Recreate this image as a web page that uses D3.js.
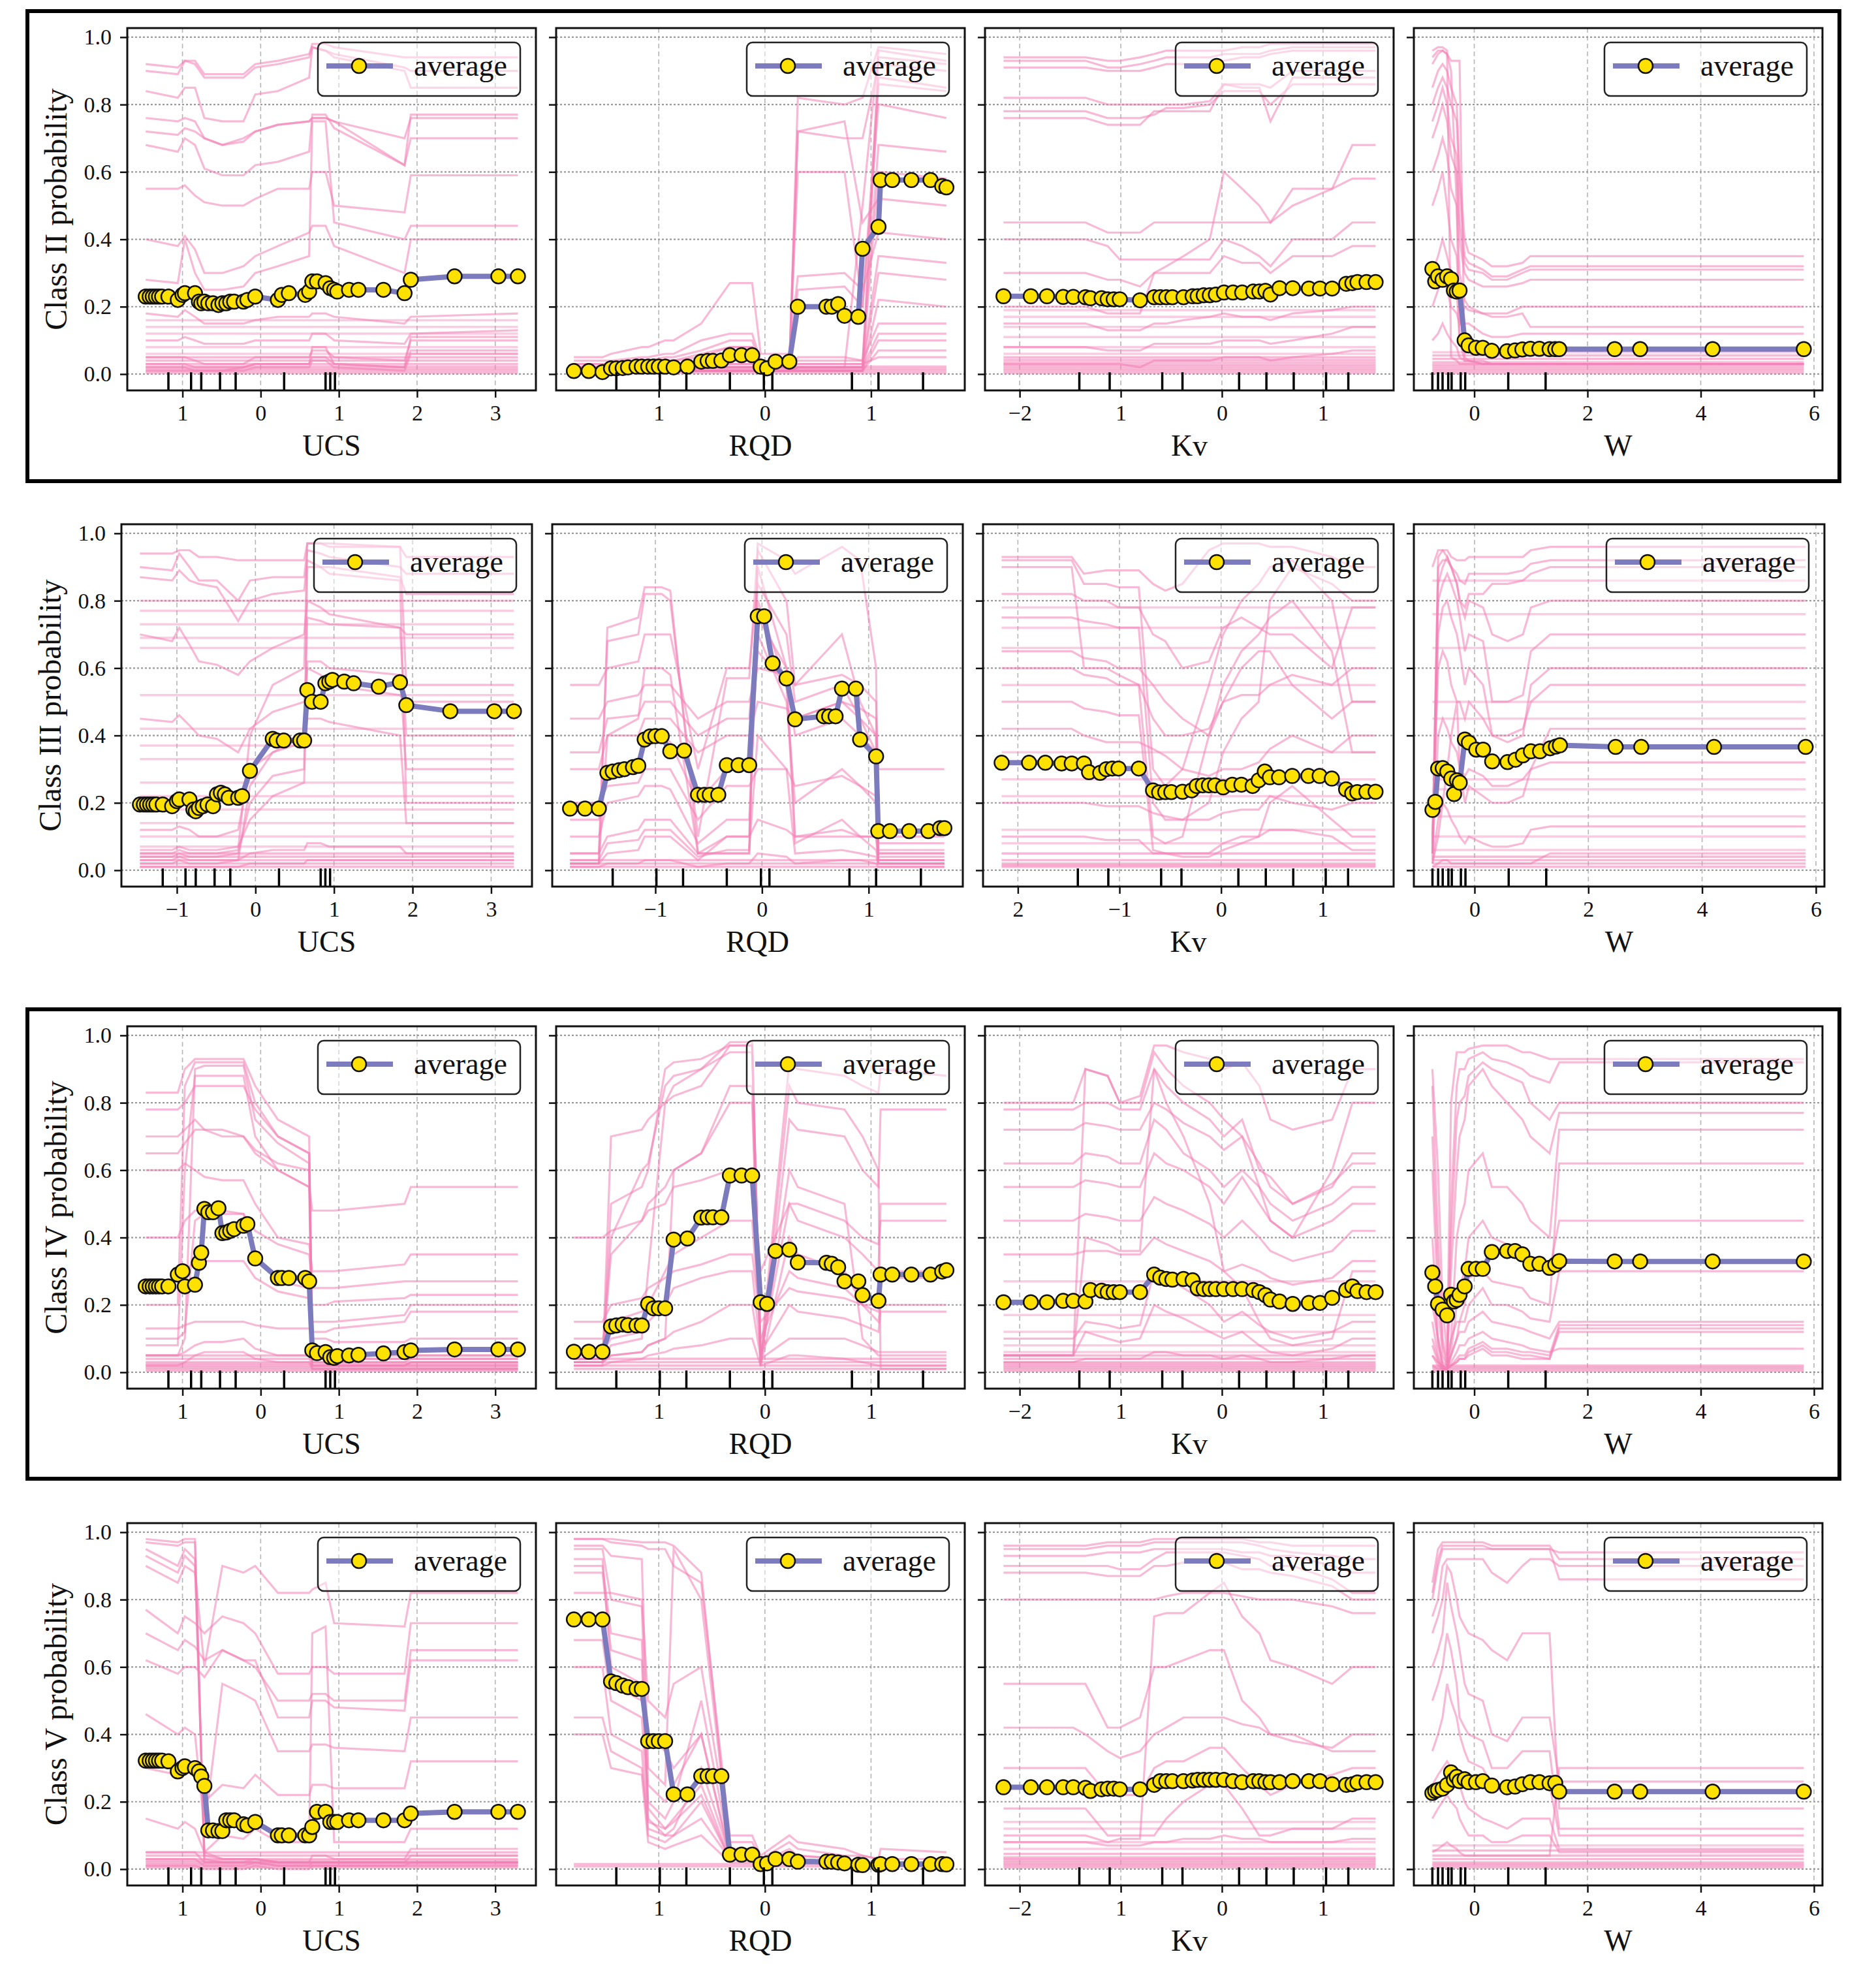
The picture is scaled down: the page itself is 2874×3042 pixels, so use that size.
<!DOCTYPE html>
<html>
<head>
<meta charset="utf-8">
<script src="https://d3js.org/d3.v7.min.js"></script>
<style>
  body { margin: 0; background: #fff; }
  svg { display: block; }
  text { font-family: "Liberation Serif", "DejaVu Serif", serif; fill: #111; }
</style>
</head>
<body>
<svg id="chart"></svg>
<script>
// ---------- data ----------
var features = ["UCS", "RQD", "Kv", "W"];
var classes = ["II", "III", "IV", "V"];

var ucsGrid = [-1.47, -1.42, -1.38, -1.34, -1.30, -1.26, -1.18, -1.06, -1.00, -0.97, -0.84, -0.79, -0.76, -0.72, -0.67, -0.61, -0.54, -0.49, -0.44, -0.39, -0.34, -0.22, -0.17, -0.07, 0.22, 0.27, 0.36, 0.57, 0.62, 0.66, 0.72, 0.83, 0.89, 0.94, 0.98, 1.13, 1.25, 1.57, 1.84, 1.92, 2.48, 3.04, 3.29];
var rqdGrid = [-1.80, -1.66, -1.53, -1.45, -1.40, -1.34, -1.29, -1.21, -1.16, -1.10, -1.05, -1.00, -0.94, -0.86, -0.73, -0.60, -0.54, -0.49, -0.41, -0.33, -0.22, -0.12, -0.04, 0.02, 0.10, 0.23, 0.31, 0.58, 0.63, 0.69, 0.75, 0.88, 0.92, 1.07, 1.09, 1.20, 1.38, 1.56, 1.67, 1.71];
var kvGrid = [-2.16, -1.89, -1.73, -1.57, -1.47, -1.35, -1.30, -1.19, -1.13, -1.07, -1.01, -0.81, -0.67, -0.61, -0.55, -0.49, -0.38, -0.29, -0.24, -0.18, -0.12, -0.06, 0.02, 0.11, 0.20, 0.31, 0.37, 0.43, 0.48, 0.57, 0.70, 0.86, 0.97, 1.09, 1.23, 1.29, 1.34, 1.43, 1.52];
var wGrid = [-0.74, -0.69, -0.64, -0.56, -0.48, -0.41, -0.36, -0.31, -0.26, -0.17, -0.10, 0.03, 0.15, 0.31, 0.58, 0.72, 0.85, 0.99, 1.15, 1.33, 1.43, 1.50, 2.48, 2.93, 4.21, 5.82];

var ucsDeciles = [-1.18, -0.89, -0.76, -0.52, -0.32, 0.30, 0.83, 0.89, 0.95];
var rqdDeciles = [-1.40, -0.99, -0.74, -0.33, -0.01, 0.07, 0.82, 1.07, 1.49];
var kvDeciles = [-1.41, -1.11, -0.59, -0.39, 0.17, 0.44, 0.71, 1.03, 1.25];
var wDeciles = [-0.74, -0.64, -0.56, -0.46, -0.40, -0.24, -0.16, 0.60, 1.26];

var ucsTicks = [-1, 0, 1, 2, 3];
var rqdTicks = [-1, 0, 1];
var kvTicks = [-2, -1, 0, 1];
var wTicks = [0, 2, 4, 6];
var yTicks = [0, 0.2, 0.4, 0.6, 0.8, 1.0];

// tick labels as printed (some minus signs are missing in the picture)
var tickLabelsA = {UCS: ["1", "0", "1", "2", "3"], RQD: ["1", "0", "1"], Kv: ["\u22122", "1", "0", "1"], W: ["0", "2", "4", "6"]};
var tickLabelsB = {UCS: ["\u22121", "0", "1", "2", "3"], RQD: ["\u22121", "0", "1"], Kv: ["2", "\u22121", "0", "1"], W: ["0", "2", "4", "6"]};

// average (partial dependence) values on the grids
var avgII_UCS = [0.23,0.23,0.23,0.23,0.23,0.23,0.23,0.22,0.235,0.24,0.24,0.215,0.21,0.215,0.21,0.21,0.205,0.21,0.21,0.215,0.215,0.215,0.22,0.23,0.22,0.235,0.24,0.235,0.245,0.275,0.275,0.27,0.255,0.25,0.245,0.25,0.25,0.25,0.24,0.28,0.29,0.29,0.29];
var avgIII_UCS = [0.195,0.195,0.195,0.195,0.195,0.195,0.195,0.19,0.205,0.21,0.21,0.18,0.175,0.185,0.19,0.195,0.19,0.225,0.23,0.225,0.215,0.215,0.22,0.295,0.39,0.385,0.385,0.385,0.385,0.535,0.5,0.5,0.555,0.56,0.565,0.56,0.555,0.545,0.558,0.49,0.472,0.472,0.472];
var avgIV_UCS = [0.255,0.255,0.255,0.255,0.255,0.255,0.255,0.29,0.30,0.255,0.26,0.325,0.355,0.485,0.475,0.475,0.487,0.413,0.415,0.42,0.425,0.435,0.44,0.338,0.28,0.28,0.28,0.28,0.27,0.065,0.057,0.06,0.045,0.043,0.048,0.05,0.052,0.056,0.06,0.065,0.068,0.068,0.068];
var avgV_UCS = [0.322,0.322,0.322,0.322,0.322,0.322,0.32,0.29,0.30,0.305,0.30,0.29,0.275,0.247,0.115,0.115,0.113,0.113,0.145,0.145,0.145,0.133,0.13,0.14,0.10,0.10,0.10,0.10,0.10,0.125,0.17,0.17,0.14,0.14,0.14,0.145,0.145,0.145,0.145,0.165,0.17,0.17,0.17];

var avgII_RQD = [0.009,0.009,0.006,0.017,0.017,0.018,0.02,0.022,0.022,0.022,0.022,0.022,0.022,0.02,0.022,0.037,0.039,0.039,0.04,0.056,0.056,0.056,0.022,0.017,0.037,0.037,0.20,0.20,0.20,0.208,0.173,0.17,0.372,0.437,0.576,0.576,0.576,0.576,0.558,0.554];
var avgIII_RQD = [0.183,0.183,0.183,0.289,0.293,0.297,0.30,0.306,0.31,0.388,0.397,0.398,0.398,0.353,0.355,0.224,0.224,0.224,0.224,0.312,0.312,0.312,0.754,0.754,0.614,0.569,0.448,0.457,0.457,0.457,0.539,0.539,0.388,0.338,0.116,0.116,0.116,0.116,0.125,0.125];
var avgIV_RQD = [0.061,0.061,0.061,0.136,0.139,0.142,0.14,0.139,0.139,0.203,0.19,0.19,0.19,0.394,0.397,0.459,0.46,0.46,0.46,0.584,0.584,0.584,0.208,0.203,0.36,0.364,0.326,0.325,0.322,0.312,0.27,0.27,0.229,0.212,0.29,0.29,0.29,0.29,0.299,0.303];
var avgV_RQD = [0.741,0.741,0.741,0.557,0.552,0.545,0.54,0.535,0.535,0.38,0.38,0.38,0.38,0.222,0.222,0.276,0.276,0.276,0.276,0.043,0.043,0.043,0.015,0.017,0.03,0.03,0.022,0.022,0.022,0.02,0.017,0.013,0.012,0.013,0.015,0.015,0.015,0.015,0.015,0.014];

var avgII_Kv = [0.231,0.231,0.231,0.229,0.229,0.228,0.225,0.225,0.222,0.222,0.222,0.219,0.228,0.228,0.228,0.228,0.228,0.231,0.231,0.234,0.234,0.236,0.242,0.242,0.242,0.245,0.245,0.247,0.236,0.255,0.255,0.254,0.254,0.254,0.268,0.27,0.273,0.273,0.273];
var avgIII_Kv = [0.319,0.319,0.319,0.317,0.317,0.317,0.291,0.289,0.30,0.302,0.302,0.302,0.237,0.231,0.232,0.232,0.233,0.237,0.25,0.252,0.252,0.252,0.246,0.254,0.254,0.25,0.267,0.293,0.276,0.276,0.28,0.28,0.28,0.272,0.24,0.228,0.232,0.233,0.233];
var avgIV_Kv = [0.208,0.208,0.208,0.212,0.212,0.21,0.244,0.242,0.238,0.238,0.238,0.238,0.29,0.281,0.277,0.275,0.277,0.273,0.249,0.247,0.247,0.247,0.247,0.247,0.247,0.244,0.238,0.229,0.216,0.21,0.203,0.206,0.206,0.221,0.244,0.255,0.241,0.238,0.238];
var avgV_Kv = [0.243,0.243,0.243,0.243,0.243,0.241,0.232,0.237,0.239,0.239,0.237,0.237,0.25,0.261,0.261,0.261,0.261,0.263,0.265,0.265,0.265,0.265,0.265,0.261,0.258,0.261,0.261,0.258,0.258,0.258,0.261,0.261,0.261,0.252,0.25,0.252,0.257,0.258,0.258];

var avgII_W = [0.312,0.275,0.29,0.28,0.29,0.282,0.248,0.245,0.248,0.10,0.085,0.078,0.078,0.069,0.068,0.07,0.073,0.075,0.075,0.074,0.074,0.074,0.074,0.074,0.074,0.074];
var avgIII_W = [0.179,0.203,0.302,0.303,0.293,0.272,0.226,0.267,0.26,0.388,0.379,0.358,0.358,0.323,0.321,0.328,0.341,0.353,0.353,0.362,0.367,0.371,0.366,0.366,0.366,0.366];
var avgIV_W = [0.296,0.255,0.203,0.186,0.169,0.23,0.21,0.215,0.23,0.255,0.307,0.307,0.307,0.357,0.36,0.36,0.35,0.322,0.322,0.31,0.319,0.33,0.329,0.329,0.329,0.329];
var avgV_W = [0.226,0.232,0.235,0.239,0.25,0.287,0.265,0.274,0.261,0.267,0.258,0.258,0.261,0.248,0.243,0.245,0.252,0.258,0.258,0.255,0.256,0.23,0.23,0.23,0.23,0.23];

// individual (ICE) curves, sampled at coarser x positions
var ucsIceX = [-1.47, -1.06, -0.97, -0.84, -0.72, -0.49, -0.22, -0.07, 0.22, 0.62, 0.66, 0.83, 0.94, 1.84, 1.92, 3.29];
var rqdIceX = [-1.80, -1.53, -1.45, -1.16, -1.10, -0.94, -0.86, -0.60, -0.33, -0.12, -0.04, 0.23, 0.31, 0.75, 0.92, 1.07, 1.09, 1.71];
var kvIceX = [-2.16, -1.47, -1.35, -1.13, -1.01, -0.81, -0.67, -0.55, -0.38, -0.12, 0.02, 0.20, 0.37, 0.48, 0.70, 1.09, 1.29, 1.52];
var wIceX = [-0.74, -0.64, -0.56, -0.48, -0.41, -0.31, -0.26, -0.17, -0.10, 0.15, 0.31, 0.58, 0.85, 0.99, 1.33, 1.50, 5.82];

var iceII_UCS = [
  [0.92,0.91,0.93,0.93,0.89,0.89,0.89,0.92,0.93,0.95,0.98,0.98,0.97,0.94,0.94,0.94],
  [0.90,0.89,0.93,0.92,0.88,0.88,0.88,0.91,0.92,0.94,0.97,0.96,0.95,0.91,0.90,0.90],
  [0.84,0.82,0.85,0.85,0.76,0.75,0.75,0.83,0.84,0.88,0.97,0.96,0.94,0.90,0.85,0.85],
  [0.76,0.75,0.76,0.75,0.70,0.68,0.70,0.72,0.74,0.75,0.76,0.76,0.75,0.62,0.77,0.77],
  [0.68,0.66,0.70,0.68,0.61,0.59,0.59,0.62,0.63,0.66,0.77,0.77,0.73,0.62,0.70,0.70],
  [0.55,0.55,0.56,0.53,0.51,0.50,0.50,0.52,0.55,0.55,0.60,0.60,0.50,0.48,0.59,0.59],
  [0.40,0.38,0.41,0.37,0.30,0.30,0.32,0.35,0.38,0.42,0.44,0.44,0.38,0.30,0.40,0.40],
  [0.18,0.17,0.19,0.17,0.15,0.15,0.15,0.16,0.17,0.17,0.18,0.18,0.17,0.15,0.17,0.18],
  [0.10,0.10,0.11,0.10,0.09,0.09,0.09,0.10,0.10,0.10,0.12,0.12,0.10,0.09,0.12,0.13],
  [0.05,0.05,0.05,0.04,0.03,0.03,0.03,0.05,0.05,0.05,0.07,0.07,0.05,0.04,0.10,0.10],
  [0.03,0.03,0.03,0.02,0.02,0.02,0.02,0.03,0.03,0.03,0.05,0.05,0.03,0.02,0.07,0.07],
  [0.72,0.71,0.73,0.72,0.70,0.68,0.69,0.72,0.74,0.75,0.76,0.76,0.75,0.70,0.76,0.76],
  [0.28,0.27,0.40,0.30,0.25,0.25,0.26,0.30,0.32,0.35,0.75,0.75,0.45,0.40,0.44,0.44],
  [0.02,0.02,0.02,0.01,0.01,0.01,0.02,0.03,0.03,0.03,0.08,0.08,0.03,0.02,0.11,0.11],
  [0.01,0.01,0.01,0.01,0.01,0.01,0.01,0.02,0.02,0.02,0.04,0.04,0.02,0.01,0.06,0.06]
];
var iceIII_UCS = [
  [0.94,0.94,0.95,0.95,0.93,0.93,0.92,0.92,0.92,0.92,0.97,0.97,0.97,0.96,0.93,0.93],
  [0.90,0.89,0.94,0.90,0.86,0.86,0.80,0.86,0.87,0.87,0.95,0.94,0.93,0.90,0.88,0.88],
  [0.87,0.86,0.89,0.86,0.85,0.84,0.74,0.80,0.82,0.83,0.92,0.90,0.90,0.87,0.82,0.82],
  [0.05,0.05,0.06,0.05,0.05,0.05,0.06,0.40,0.55,0.60,0.97,0.97,0.96,0.96,0.55,0.55],
  [0.02,0.02,0.03,0.02,0.02,0.02,0.03,0.25,0.35,0.40,0.75,0.74,0.73,0.72,0.40,0.40],
  [0.70,0.68,0.72,0.67,0.62,0.61,0.58,0.62,0.66,0.70,0.80,0.78,0.76,0.72,0.70,0.70],
  [0.45,0.44,0.46,0.43,0.40,0.39,0.35,0.42,0.47,0.50,0.60,0.58,0.55,0.52,0.50,0.50],
  [0.12,0.12,0.13,0.12,0.10,0.10,0.12,0.30,0.35,0.38,0.45,0.45,0.44,0.40,0.14,0.14],
  [0.03,0.03,0.04,0.03,0.03,0.03,0.03,0.05,0.06,0.06,0.08,0.08,0.07,0.07,0.05,0.05],
  [0.01,0.01,0.01,0.01,0.01,0.01,0.01,0.02,0.02,0.02,0.03,0.03,0.03,0.03,0.03,0.03],
  [0.04,0.04,0.05,0.04,0.04,0.04,0.05,0.20,0.28,0.30,0.90,0.90,0.88,0.86,0.20,0.20],
  [0.06,0.06,0.07,0.06,0.06,0.06,0.07,0.15,0.22,0.26,0.62,0.62,0.60,0.58,0.30,0.30]
];
var iceIV_UCS = [
  [0.83,0.83,0.90,0.93,0.93,0.93,0.93,0.85,0.75,0.70,0.05,0.05,0.04,0.04,0.05,0.05],
  [0.20,0.20,0.85,0.92,0.92,0.92,0.92,0.80,0.70,0.65,0.03,0.03,0.02,0.02,0.03,0.03],
  [0.05,0.05,0.10,0.90,0.91,0.91,0.91,0.75,0.68,0.62,0.02,0.02,0.02,0.02,0.03,0.03],
  [0.70,0.70,0.72,0.75,0.72,0.70,0.70,0.65,0.60,0.55,0.48,0.48,0.48,0.50,0.55,0.55],
  [0.60,0.60,0.62,0.60,0.58,0.57,0.57,0.50,0.40,0.38,0.30,0.30,0.30,0.32,0.35,0.35],
  [0.10,0.10,0.12,0.45,0.47,0.47,0.47,0.35,0.27,0.25,0.02,0.02,0.02,0.02,0.02,0.02],
  [0.05,0.05,0.06,0.08,0.09,0.09,0.10,0.07,0.05,0.05,0.01,0.01,0.01,0.01,0.01,0.01],
  [0.02,0.02,0.03,0.05,0.06,0.06,0.06,0.04,0.03,0.03,0.01,0.01,0.01,0.01,0.01,0.01],
  [0.13,0.13,0.14,0.15,0.15,0.15,0.15,0.14,0.13,0.13,0.12,0.12,0.13,0.15,0.18,0.18],
  [0.40,0.40,0.45,0.48,0.48,0.48,0.47,0.42,0.38,0.35,0.25,0.25,0.25,0.27,0.27,0.27],
  [0.78,0.78,0.80,0.85,0.85,0.85,0.85,0.78,0.70,0.65,0.10,0.10,0.09,0.09,0.10,0.10],
  [0.65,0.65,0.68,0.72,0.72,0.72,0.70,0.66,0.62,0.60,0.15,0.15,0.15,0.17,0.20,0.20],
  [0.08,0.08,0.60,0.88,0.88,0.88,0.88,0.70,0.60,0.55,0.04,0.04,0.03,0.03,0.04,0.04],
  [0.25,0.25,0.30,0.33,0.33,0.33,0.33,0.28,0.24,0.22,0.20,0.20,0.21,0.22,0.23,0.23]
];
var iceV_UCS = [
  [0.97,0.96,0.97,0.97,0.02,0.02,0.02,0.02,0.01,0.01,0.01,0.01,0.01,0.01,0.01,0.01],
  [0.95,0.90,0.95,0.92,0.05,0.03,0.03,0.03,0.02,0.02,0.02,0.02,0.02,0.02,0.02,0.02],
  [0.90,0.85,0.90,0.88,0.60,0.90,0.88,0.90,0.82,0.82,0.83,0.85,0.73,0.72,0.82,0.82],
  [0.77,0.70,0.75,0.73,0.70,0.75,0.73,0.70,0.58,0.58,0.60,0.60,0.58,0.58,0.73,0.73],
  [0.70,0.65,0.68,0.66,0.62,0.65,0.62,0.60,0.50,0.50,0.52,0.52,0.50,0.50,0.65,0.65],
  [0.46,0.40,0.42,0.40,0.12,0.55,0.52,0.50,0.35,0.35,0.37,0.37,0.36,0.35,0.45,0.45],
  [0.15,0.12,0.14,0.12,0.05,0.10,0.09,0.12,0.08,0.08,0.70,0.72,0.08,0.08,0.12,0.12],
  [0.05,0.05,0.05,0.05,0.02,0.02,0.02,0.03,0.02,0.02,0.04,0.04,0.03,0.03,0.06,0.06],
  [0.03,0.03,0.03,0.03,0.01,0.01,0.01,0.02,0.01,0.01,0.02,0.02,0.02,0.02,0.04,0.04],
  [0.01,0.01,0.01,0.01,0.00,0.00,0.00,0.01,0.00,0.00,0.01,0.01,0.01,0.01,0.02,0.02],
  [0.30,0.28,0.30,0.28,0.20,0.25,0.24,0.28,0.22,0.22,0.25,0.25,0.24,0.24,0.32,0.32],
  [0.62,0.58,0.60,0.60,0.57,0.65,0.62,0.62,0.45,0.45,0.50,0.50,0.48,0.47,0.62,0.62],
  [0.98,0.97,0.98,0.98,0.03,0.02,0.02,0.02,0.02,0.02,0.02,0.02,0.02,0.02,0.02,0.02],
  [0.93,0.88,0.93,0.90,0.04,0.03,0.03,0.03,0.02,0.02,0.02,0.02,0.02,0.02,0.02,0.02]
];

var iceII_RQD = [
  [0.01,0.01,0.01,0.01,0.01,0.01,0.01,0.02,0.02,0.02,0.01,0.01,0.82,0.80,0.82,0.97,0.97,0.95],
  [0.01,0.01,0.01,0.01,0.01,0.01,0.01,0.01,0.01,0.01,0.01,0.01,0.02,0.02,0.50,0.96,0.96,0.93],
  [0.02,0.02,0.02,0.02,0.02,0.02,0.02,0.03,0.03,0.03,0.02,0.02,0.72,0.70,0.70,0.92,0.92,0.90],
  [0.04,0.04,0.04,0.05,0.05,0.06,0.06,0.10,0.12,0.12,0.04,0.04,0.25,0.26,0.20,0.80,0.80,0.76],
  [0.02,0.02,0.02,0.03,0.03,0.04,0.04,0.06,0.08,0.08,0.03,0.03,0.04,0.04,0.04,0.68,0.68,0.66],
  [0.05,0.05,0.06,0.08,0.08,0.10,0.10,0.15,0.27,0.27,0.06,0.06,0.29,0.30,0.25,0.42,0.42,0.40],
  [0.03,0.03,0.03,0.04,0.04,0.05,0.05,0.07,0.10,0.10,0.03,0.03,0.72,0.75,0.45,0.52,0.52,0.50],
  [0.01,0.01,0.01,0.01,0.01,0.01,0.01,0.02,0.02,0.02,0.01,0.01,0.02,0.02,0.02,0.30,0.30,0.28],
  [0.01,0.01,0.01,0.01,0.01,0.01,0.01,0.01,0.01,0.01,0.01,0.01,0.05,0.05,0.04,0.15,0.15,0.15],
  [0.02,0.02,0.02,0.02,0.02,0.03,0.03,0.04,0.06,0.06,0.02,0.02,0.03,0.03,0.03,0.05,0.05,0.05],
  [0.03,0.03,0.03,0.03,0.03,0.04,0.04,0.05,0.08,0.08,0.03,0.03,0.60,0.60,0.20,0.86,0.86,0.84],
  [0.01,0.01,0.01,0.01,0.01,0.01,0.01,0.02,0.02,0.02,0.01,0.01,0.02,0.02,0.02,0.60,0.60,0.58],
  [0.01,0.01,0.01,0.01,0.01,0.01,0.01,0.01,0.01,0.01,0.01,0.01,0.01,0.01,0.01,0.22,0.22,0.20],
  [0.01,0.01,0.01,0.01,0.01,0.01,0.01,0.01,0.01,0.01,0.01,0.01,0.01,0.01,0.01,0.10,0.10,0.10],
  [0.01,0.01,0.01,0.01,0.01,0.01,0.01,0.01,0.01,0.01,0.01,0.01,0.01,0.01,0.01,0.88,0.88,0.85],
  [0.01,0.01,0.01,0.01,0.01,0.01,0.01,0.01,0.01,0.01,0.01,0.01,0.02,0.02,0.02,0.94,0.94,0.92],
  [0.02,0.02,0.02,0.02,0.02,0.02,0.02,0.03,0.04,0.04,0.02,0.02,0.03,0.03,0.03,0.35,0.35,0.33],
  [0.01,0.01,0.01,0.01,0.01,0.01,0.01,0.01,0.01,0.01,0.01,0.01,0.01,0.01,0.01,0.07,0.07,0.07],
  [0.02,0.02,0.02,0.02,0.02,0.02,0.02,0.02,0.03,0.03,0.02,0.02,0.02,0.02,0.02,0.12,0.12,0.12]
];
var iceIII_RQD = [
  [0.02,0.02,0.72,0.75,0.84,0.84,0.83,0.05,0.05,0.05,0.97,0.92,0.88,0.96,0.92,0.60,0.02,0.02],
  [0.05,0.05,0.68,0.70,0.82,0.82,0.80,0.10,0.57,0.57,0.95,0.80,0.55,0.70,0.50,0.40,0.03,0.03],
  [0.55,0.55,0.60,0.62,0.70,0.70,0.70,0.30,0.60,0.60,0.85,0.70,0.50,0.55,0.45,0.35,0.05,0.05],
  [0.02,0.02,0.40,0.45,0.60,0.60,0.58,0.05,0.05,0.05,0.90,0.60,0.10,0.10,0.10,0.10,0.02,0.02],
  [0.15,0.15,0.30,0.32,0.40,0.40,0.38,0.20,0.30,0.30,0.65,0.55,0.45,0.50,0.45,0.40,0.10,0.10],
  [0.02,0.02,0.05,0.06,0.10,0.10,0.10,0.03,0.10,0.10,0.80,0.55,0.08,0.15,0.10,0.06,0.03,0.03],
  [0.30,0.30,0.40,0.40,0.45,0.45,0.45,0.35,0.40,0.40,0.50,0.48,0.45,0.50,0.48,0.45,0.30,0.30],
  [0.01,0.01,0.02,0.02,0.03,0.03,0.03,0.01,0.02,0.02,0.05,0.04,0.02,0.03,0.03,0.02,0.01,0.01],
  [0.05,0.05,0.10,0.12,0.15,0.15,0.15,0.05,0.10,0.10,0.15,0.12,0.10,0.12,0.10,0.10,0.05,0.05],
  [0.20,0.20,0.25,0.26,0.30,0.30,0.30,0.15,0.25,0.25,0.30,0.30,0.25,0.28,0.25,0.22,0.08,0.08],
  [0.45,0.45,0.50,0.52,0.55,0.55,0.55,0.45,0.50,0.50,0.60,0.58,0.55,0.58,0.55,0.50,0.12,0.12],
  [0.10,0.10,0.20,0.22,0.25,0.25,0.24,0.08,0.15,0.15,0.70,0.50,0.20,0.30,0.25,0.20,0.04,0.04],
  [0.35,0.35,0.45,0.46,0.50,0.50,0.50,0.40,0.45,0.45,0.75,0.60,0.40,0.45,0.40,0.35,0.06,0.06],
  [0.03,0.03,0.08,0.09,0.12,0.12,0.12,0.04,0.06,0.06,0.40,0.30,0.05,0.06,0.05,0.04,0.02,0.02]
];
var iceIV_RQD = [
  [0.05,0.05,0.40,0.60,0.62,0.85,0.88,0.90,0.98,0.98,0.05,0.92,0.90,0.88,0.85,0.83,0.90,0.88],
  [0.04,0.04,0.08,0.10,0.30,0.80,0.85,0.90,0.95,0.95,0.03,0.60,0.55,0.50,0.10,0.05,0.05,0.05],
  [0.04,0.04,0.35,0.45,0.50,0.55,0.60,0.65,0.80,0.80,0.05,0.50,0.45,0.40,0.35,0.30,0.50,0.50],
  [0.03,0.03,0.05,0.06,0.08,0.10,0.60,0.65,0.85,0.85,0.02,0.40,0.35,0.30,0.20,0.15,0.20,0.20],
  [0.40,0.40,0.42,0.45,0.48,0.50,0.55,0.57,0.60,0.60,0.30,0.50,0.50,0.45,0.40,0.38,0.45,0.45],
  [0.10,0.10,0.15,0.18,0.20,0.30,0.35,0.40,0.45,0.45,0.10,0.30,0.28,0.25,0.20,0.18,0.30,0.30],
  [0.02,0.02,0.03,0.04,0.05,0.06,0.07,0.08,0.10,0.10,0.02,0.05,0.05,0.04,0.03,0.02,0.02,0.02],
  [0.15,0.15,0.20,0.22,0.25,0.28,0.30,0.32,0.35,0.35,0.15,0.25,0.24,0.22,0.20,0.20,0.28,0.28],
  [0.02,0.02,0.70,0.72,0.75,0.80,0.82,0.85,0.97,0.97,0.03,0.85,0.80,0.78,0.70,0.60,0.01,0.01],
  [0.03,0.03,0.05,0.06,0.08,0.10,0.12,0.15,0.20,0.20,0.04,0.10,0.10,0.10,0.08,0.06,0.06,0.06],
  [0.03,0.03,0.50,0.55,0.60,0.90,0.92,0.93,0.97,0.97,0.02,0.75,0.72,0.70,0.60,0.55,0.78,0.78],
  [0.06,0.06,0.10,0.12,0.15,0.20,0.25,0.28,0.30,0.30,0.06,0.20,0.18,0.16,0.14,0.12,0.18,0.18]
];
var iceV_RQD = [
  [0.98,0.98,0.98,0.97,0.97,0.97,0.96,0.88,0.05,0.05,0.02,0.03,0.02,0.02,0.02,0.01,0.01,0.01],
  [0.96,0.96,0.93,0.92,0.30,0.25,0.95,0.80,0.06,0.06,0.03,0.04,0.03,0.02,0.02,0.01,0.01,0.01],
  [0.92,0.92,0.60,0.55,0.20,0.15,0.20,0.50,0.05,0.05,0.02,0.06,0.04,0.03,0.02,0.02,0.02,0.02],
  [0.90,0.90,0.70,0.68,0.15,0.10,0.12,0.30,0.04,0.04,0.02,0.05,0.03,0.02,0.02,0.02,0.02,0.02],
  [0.75,0.75,0.55,0.50,0.40,0.35,0.30,0.40,0.03,0.03,0.02,0.04,0.03,0.02,0.02,0.02,0.02,0.02],
  [0.60,0.60,0.40,0.35,0.10,0.08,0.10,0.20,0.03,0.03,0.01,0.05,0.03,0.02,0.02,0.02,0.02,0.02],
  [0.45,0.45,0.35,0.30,0.12,0.10,0.10,0.15,0.03,0.03,0.01,0.04,0.03,0.02,0.02,0.02,0.02,0.02],
  [0.82,0.82,0.82,0.80,0.50,0.45,0.55,0.60,0.08,0.08,0.03,0.08,0.06,0.04,0.04,0.03,0.06,0.05],
  [0.98,0.98,0.97,0.96,0.95,0.95,0.90,0.85,0.10,0.10,0.04,0.10,0.08,0.06,0.04,0.03,0.03,0.03],
  [0.40,0.40,0.30,0.28,0.08,0.06,0.07,0.10,0.02,0.02,0.01,0.03,0.02,0.01,0.01,0.01,0.01,0.01],
  [0.95,0.95,0.80,0.78,0.25,0.20,0.25,0.40,0.04,0.04,0.02,0.05,0.04,0.03,0.02,0.02,0.02,0.02],
  [0.88,0.88,0.65,0.62,0.18,0.12,0.15,0.25,0.03,0.03,0.02,0.04,0.03,0.02,0.02,0.02,0.02,0.02],
  [0.68,0.68,0.50,0.45,0.14,0.12,0.14,0.22,0.03,0.03,0.01,0.04,0.03,0.02,0.02,0.02,0.02,0.02]
];

var iceII_Kv = [
  [0.94,0.94,0.94,0.93,0.93,0.94,0.95,0.96,0.96,0.96,0.96,0.97,0.97,0.98,0.98,0.98,0.98,0.98],
  [0.91,0.91,0.91,0.90,0.90,0.90,0.91,0.92,0.92,0.92,0.93,0.94,0.94,0.95,0.96,0.96,0.96,0.96],
  [0.82,0.82,0.82,0.80,0.80,0.80,0.80,0.80,0.80,0.81,0.86,0.86,0.86,0.85,0.90,0.90,0.90,0.90],
  [0.76,0.76,0.76,0.74,0.74,0.74,0.78,0.78,0.78,0.78,0.86,0.85,0.85,0.75,0.88,0.88,0.88,0.88],
  [0.45,0.45,0.45,0.42,0.42,0.42,0.45,0.45,0.45,0.45,0.45,0.45,0.45,0.45,0.50,0.55,0.68,0.68],
  [0.20,0.20,0.20,0.18,0.18,0.18,0.30,0.32,0.35,0.40,0.60,0.55,0.50,0.45,0.55,0.55,0.58,0.58],
  [0.40,0.40,0.40,0.38,0.34,0.34,0.34,0.34,0.34,0.34,0.40,0.38,0.35,0.32,0.40,0.40,0.45,0.45],
  [0.30,0.30,0.30,0.28,0.28,0.26,0.30,0.30,0.30,0.30,0.35,0.33,0.33,0.30,0.35,0.35,0.38,0.38],
  [0.15,0.15,0.15,0.13,0.13,0.13,0.15,0.15,0.16,0.17,0.18,0.17,0.17,0.16,0.18,0.19,0.20,0.20],
  [0.08,0.08,0.08,0.07,0.07,0.07,0.09,0.09,0.09,0.09,0.10,0.10,0.10,0.09,0.10,0.12,0.14,0.14],
  [0.03,0.03,0.03,0.03,0.03,0.02,0.04,0.04,0.04,0.04,0.05,0.05,0.05,0.04,0.05,0.06,0.07,0.07],
  [0.93,0.93,0.93,0.91,0.91,0.92,0.93,0.94,0.94,0.94,0.95,0.95,0.95,0.96,0.97,0.97,0.97,0.97],
  [0.78,0.78,0.78,0.76,0.76,0.76,0.77,0.79,0.79,0.80,0.84,0.84,0.84,0.80,0.86,0.86,0.86,0.86]
];
var iceIII_Kv = [
  [0.93,0.93,0.88,0.89,0.89,0.89,0.85,0.83,0.85,0.95,0.97,0.97,0.97,0.96,0.96,0.93,0.90,0.90],
  [0.90,0.90,0.60,0.60,0.58,0.55,0.10,0.08,0.10,0.40,0.55,0.65,0.70,0.75,0.80,0.65,0.35,0.35],
  [0.82,0.82,0.80,0.80,0.78,0.78,0.70,0.68,0.60,0.62,0.72,0.75,0.72,0.70,0.70,0.60,0.78,0.78],
  [0.75,0.75,0.74,0.73,0.72,0.72,0.20,0.15,0.15,0.20,0.35,0.45,0.50,0.80,0.90,0.85,0.80,0.80],
  [0.60,0.60,0.58,0.57,0.55,0.55,0.45,0.40,0.40,0.42,0.50,0.52,0.52,0.55,0.58,0.55,0.60,0.60],
  [0.50,0.50,0.48,0.47,0.46,0.46,0.06,0.05,0.05,0.05,0.08,0.10,0.10,0.20,0.25,0.15,0.10,0.10],
  [0.42,0.42,0.40,0.38,0.38,0.38,0.36,0.34,0.30,0.28,0.30,0.30,0.32,0.36,0.40,0.35,0.40,0.40],
  [0.20,0.20,0.20,0.19,0.19,0.19,0.17,0.16,0.15,0.15,0.17,0.18,0.18,0.22,0.20,0.18,0.20,0.20],
  [0.10,0.10,0.10,0.09,0.09,0.09,0.05,0.05,0.04,0.04,0.06,0.08,0.10,0.12,0.12,0.10,0.06,0.06],
  [0.65,0.65,0.63,0.62,0.60,0.60,0.55,0.50,0.45,0.40,0.50,0.60,0.65,0.65,0.55,0.45,0.50,0.50],
  [0.92,0.92,0.85,0.85,0.84,0.84,0.30,0.25,0.30,0.55,0.70,0.80,0.85,0.90,0.92,0.80,0.50,0.50]
];
var iceIV_Kv = [
  [0.80,0.80,0.90,0.88,0.80,0.82,0.97,0.97,0.95,0.93,0.90,0.92,0.85,0.75,0.72,0.75,0.90,0.90],
  [0.05,0.05,0.90,0.88,0.80,0.80,0.95,0.90,0.85,0.80,0.75,0.70,0.55,0.45,0.40,0.60,0.80,0.80],
  [0.78,0.78,0.80,0.80,0.78,0.78,0.90,0.85,0.80,0.75,0.70,0.75,0.60,0.58,0.50,0.55,0.65,0.65],
  [0.62,0.62,0.65,0.64,0.62,0.62,0.75,0.72,0.65,0.60,0.55,0.60,0.55,0.50,0.45,0.50,0.55,0.55],
  [0.05,0.05,0.40,0.38,0.36,0.36,0.90,0.80,0.70,0.50,0.30,0.25,0.15,0.10,0.08,0.10,0.30,0.30],
  [0.05,0.05,0.12,0.10,0.09,0.10,0.20,0.18,0.16,0.12,0.10,0.12,0.08,0.06,0.05,0.07,0.10,0.10],
  [0.55,0.55,0.57,0.56,0.55,0.55,0.65,0.62,0.60,0.55,0.50,0.58,0.50,0.45,0.40,0.45,0.50,0.50],
  [0.10,0.10,0.15,0.14,0.13,0.14,0.30,0.28,0.25,0.20,0.15,0.18,0.14,0.12,0.10,0.12,0.15,0.15],
  [0.03,0.03,0.04,0.04,0.04,0.04,0.06,0.06,0.05,0.05,0.04,0.05,0.04,0.03,0.03,0.04,0.05,0.05],
  [0.35,0.35,0.36,0.36,0.35,0.35,0.40,0.38,0.36,0.33,0.30,0.32,0.30,0.28,0.26,0.28,0.33,0.33],
  [0.72,0.72,0.74,0.73,0.72,0.72,0.80,0.78,0.74,0.70,0.66,0.70,0.62,0.55,0.50,0.56,0.62,0.62],
  [0.45,0.45,0.47,0.46,0.45,0.45,0.52,0.50,0.48,0.44,0.40,0.45,0.40,0.36,0.33,0.36,0.42,0.42]
];
var iceV_Kv = [
  [0.96,0.96,0.96,0.97,0.97,0.97,0.98,0.98,0.98,0.98,0.98,0.98,0.97,0.97,0.96,0.96,0.96,0.96],
  [0.93,0.93,0.93,0.94,0.94,0.94,0.95,0.95,0.95,0.95,0.95,0.94,0.94,0.93,0.93,0.90,0.88,0.88],
  [0.90,0.90,0.90,0.90,0.89,0.89,0.92,0.94,0.94,0.94,0.94,0.93,0.92,0.90,0.90,0.86,0.82,0.82],
  [0.88,0.88,0.88,0.87,0.87,0.87,0.90,0.90,0.91,0.91,0.91,0.89,0.89,0.88,0.87,0.84,0.80,0.80],
  [0.80,0.80,0.80,0.80,0.80,0.80,0.80,0.81,0.82,0.82,0.82,0.81,0.80,0.80,0.80,0.78,0.76,0.76],
  [0.10,0.10,0.10,0.08,0.09,0.09,0.75,0.76,0.76,0.82,0.85,0.75,0.70,0.62,0.60,0.55,0.60,0.60],
  [0.55,0.55,0.55,0.42,0.42,0.45,0.60,0.60,0.62,0.65,0.65,0.50,0.45,0.40,0.40,0.35,0.35,0.35],
  [0.42,0.42,0.40,0.35,0.33,0.35,0.40,0.42,0.45,0.45,0.45,0.43,0.42,0.40,0.38,0.36,0.40,0.40],
  [0.30,0.30,0.30,0.22,0.22,0.22,0.30,0.32,0.32,0.36,0.36,0.30,0.25,0.22,0.25,0.28,0.30,0.30],
  [0.18,0.18,0.18,0.10,0.10,0.10,0.10,0.15,0.20,0.25,0.25,0.18,0.10,0.10,0.12,0.12,0.15,0.15],
  [0.08,0.08,0.08,0.07,0.07,0.07,0.08,0.08,0.09,0.09,0.10,0.09,0.09,0.08,0.08,0.08,0.09,0.09],
  [0.95,0.95,0.95,0.96,0.96,0.96,0.97,0.97,0.97,0.97,0.97,0.97,0.96,0.95,0.94,0.93,0.92,0.92]
];

var iceII_W = [
  [0.96,0.97,0.97,0.96,0.05,0.04,0.03,0.03,0.03,0.03,0.03,0.03,0.03,0.03,0.03,0.03,0.03],
  [0.92,0.95,0.96,0.95,0.93,0.93,0.93,0.05,0.04,0.04,0.03,0.03,0.03,0.03,0.03,0.03,0.03],
  [0.85,0.90,0.92,0.90,0.85,0.80,0.60,0.40,0.36,0.34,0.32,0.32,0.33,0.35,0.35,0.35,0.35],
  [0.80,0.85,0.88,0.85,0.80,0.75,0.55,0.35,0.33,0.31,0.29,0.29,0.31,0.32,0.32,0.32,0.32],
  [0.70,0.75,0.80,0.75,0.65,0.60,0.40,0.30,0.28,0.26,0.26,0.26,0.27,0.28,0.28,0.28,0.28],
  [0.60,0.65,0.70,0.65,0.55,0.50,0.30,0.22,0.20,0.18,0.17,0.17,0.18,0.14,0.14,0.14,0.14],
  [0.50,0.55,0.60,0.50,0.40,0.35,0.20,0.15,0.15,0.12,0.11,0.11,0.12,0.12,0.12,0.12,0.12],
  [0.30,0.35,0.40,0.35,0.30,0.25,0.10,0.08,0.08,0.07,0.06,0.06,0.07,0.07,0.07,0.07,0.07],
  [0.10,0.12,0.15,0.12,0.10,0.08,0.05,0.04,0.04,0.03,0.03,0.03,0.03,0.03,0.03,0.03,0.03],
  [0.20,0.25,0.30,0.25,0.20,0.18,0.15,0.20,0.19,0.18,0.18,0.18,0.20,0.20,0.20,0.20,0.20],
  [0.94,0.96,0.96,0.95,0.90,0.50,0.10,0.04,0.04,0.03,0.03,0.03,0.03,0.03,0.03,0.03,0.03],
  [0.75,0.80,0.85,0.80,0.70,0.65,0.45,0.33,0.31,0.30,0.28,0.28,0.30,0.31,0.31,0.31,0.31]
];
var iceIII_W = [
  [0.05,0.93,0.95,0.95,0.93,0.92,0.92,0.92,0.93,0.93,0.93,0.93,0.93,0.95,0.96,0.96,0.96],
  [0.05,0.85,0.90,0.93,0.90,0.85,0.80,0.75,0.80,0.78,0.70,0.68,0.70,0.78,0.80,0.80,0.80],
  [0.05,0.80,0.85,0.88,0.85,0.80,0.75,0.65,0.70,0.68,0.50,0.50,0.52,0.65,0.70,0.70,0.70],
  [0.03,0.70,0.78,0.80,0.75,0.70,0.65,0.55,0.60,0.55,0.40,0.38,0.40,0.55,0.60,0.60,0.60],
  [0.10,0.60,0.65,0.62,0.55,0.50,0.50,0.45,0.50,0.45,0.40,0.40,0.42,0.50,0.55,0.55,0.55],
  [0.02,0.10,0.20,0.30,0.40,0.50,0.30,0.20,0.25,0.22,0.20,0.20,0.22,0.30,0.42,0.42,0.42],
  [0.05,0.40,0.45,0.42,0.38,0.35,0.30,0.28,0.30,0.28,0.25,0.25,0.27,0.30,0.32,0.32,0.32],
  [0.01,0.02,0.03,0.03,0.02,0.02,0.02,0.02,0.02,0.02,0.02,0.02,0.02,0.02,0.05,0.05,0.05],
  [0.02,0.15,0.20,0.18,0.15,0.12,0.10,0.08,0.10,0.08,0.07,0.07,0.08,0.12,0.13,0.13,0.13],
  [0.90,0.95,0.95,0.93,0.90,0.85,0.80,0.78,0.82,0.82,0.85,0.85,0.86,0.88,0.90,0.90,0.90],
  [0.08,0.90,0.92,0.92,0.90,0.88,0.86,0.85,0.88,0.88,0.88,0.88,0.89,0.91,0.92,0.92,0.92]
];
var iceIV_W = [
  [0.90,0.60,0.20,0.05,0.80,0.95,0.95,0.95,0.96,0.97,0.97,0.97,0.95,0.95,0.93,0.93,0.93],
  [0.85,0.40,0.10,0.03,0.50,0.85,0.90,0.90,0.93,0.95,0.93,0.92,0.90,0.88,0.86,0.92,0.92],
  [0.70,0.30,0.08,0.02,0.40,0.75,0.80,0.82,0.88,0.92,0.90,0.88,0.86,0.80,0.75,0.80,0.80],
  [0.20,0.10,0.03,0.02,0.30,0.60,0.70,0.75,0.85,0.90,0.85,0.80,0.75,0.70,0.65,0.77,0.77],
  [0.05,0.03,0.02,0.01,0.10,0.40,0.45,0.50,0.60,0.65,0.55,0.55,0.50,0.45,0.40,0.72,0.72],
  [0.60,0.20,0.05,0.02,0.10,0.15,0.15,0.15,0.20,0.25,0.20,0.20,0.18,0.16,0.15,0.30,0.30],
  [0.02,0.01,0.01,0.01,0.05,0.10,0.12,0.12,0.15,0.18,0.15,0.14,0.13,0.12,0.10,0.15,0.15],
  [0.40,0.10,0.02,0.01,0.05,0.10,0.15,0.20,0.28,0.30,0.27,0.26,0.25,0.22,0.20,0.62,0.62],
  [0.05,0.02,0.01,0.01,0.02,0.03,0.04,0.04,0.06,0.08,0.06,0.06,0.05,0.05,0.04,0.13,0.13],
  [0.15,0.05,0.01,0.01,0.03,0.06,0.08,0.08,0.10,0.12,0.10,0.09,0.08,0.07,0.06,0.07,0.07],
  [0.10,0.04,0.01,0.01,0.02,0.04,0.05,0.05,0.07,0.09,0.07,0.07,0.06,0.06,0.05,0.14,0.14],
  [0.08,0.03,0.01,0.01,0.02,0.03,0.04,0.04,0.05,0.07,0.05,0.05,0.04,0.04,0.04,0.12,0.12],
  [0.30,0.08,0.02,0.01,0.06,0.20,0.25,0.30,0.40,0.45,0.40,0.38,0.36,0.33,0.30,0.45,0.45]
];
var iceV_W = [
  [0.85,0.95,0.97,0.97,0.97,0.97,0.97,0.97,0.97,0.97,0.96,0.96,0.96,0.96,0.96,0.92,0.92],
  [0.80,0.90,0.95,0.95,0.95,0.95,0.95,0.95,0.95,0.95,0.95,0.95,0.95,0.95,0.95,0.86,0.86],
  [0.75,0.80,0.90,0.92,0.92,0.92,0.92,0.92,0.92,0.92,0.88,0.85,0.90,0.92,0.92,0.90,0.90],
  [0.70,0.75,0.80,0.90,0.88,0.80,0.75,0.72,0.70,0.68,0.65,0.62,0.70,0.70,0.70,0.18,0.18],
  [0.60,0.65,0.70,0.85,0.78,0.70,0.65,0.55,0.52,0.50,0.40,0.38,0.45,0.45,0.45,0.26,0.26],
  [0.50,0.55,0.60,0.70,0.65,0.55,0.45,0.42,0.40,0.38,0.30,0.30,0.35,0.35,0.35,0.12,0.12],
  [0.35,0.40,0.45,0.55,0.50,0.45,0.40,0.35,0.32,0.30,0.25,0.22,0.25,0.25,0.25,0.10,0.10],
  [0.25,0.28,0.30,0.32,0.30,0.28,0.25,0.20,0.18,0.15,0.14,0.12,0.15,0.15,0.15,0.06,0.06],
  [0.15,0.18,0.20,0.22,0.20,0.18,0.15,0.12,0.10,0.10,0.08,0.08,0.10,0.10,0.10,0.05,0.05],
  [0.05,0.06,0.07,0.08,0.07,0.06,0.05,0.04,0.04,0.04,0.04,0.04,0.04,0.04,0.04,0.30,0.30],
  [0.82,0.92,0.96,0.96,0.96,0.96,0.96,0.96,0.96,0.96,0.95,0.95,0.95,0.95,0.95,0.94,0.94]
];

// near-constant ICE curves (the dense horizontal strata)
var flatII_UCS = [0.004, 0.01, 0.016, 0.022, 0.03, 0.04, 0.05, 0.06, 0.08, 0.12, 0.14, 0.16];
var flatIII_UCS = [0.01, 0.02, 0.03, 0.04, 0.05, 0.07, 0.10, 0.14, 0.18, 0.22, 0.26, 0.33, 0.37, 0.42, 0.52, 0.66, 0.69, 0.73, 0.77, 0.80];
var flatIV_UCS = [0.005, 0.01, 0.015, 0.02, 0.025, 0.03, 0.04, 0.05];
var flatV_UCS = [0.005, 0.01, 0.015, 0.02, 0.025, 0.03, 0.04, 0.05];
var flatII_RQD = [0.004, 0.01, 0.016, 0.022];
var flatIII_RQD = [0.01, 0.02, 0.03];
var flatIV_RQD = [0.01, 0.02, 0.03, 0.04];
var flatV_RQD = [0.008, 0.015];
var flatII_Kv = [0.004, 0.01, 0.016, 0.022, 0.028, 0.035, 0.042, 0.05, 0.06, 0.08, 0.11, 0.14, 0.17, 0.19];
var flatIII_Kv = [0.01, 0.015, 0.02, 0.03, 0.05, 0.08, 0.12, 0.22, 0.27, 0.35, 0.55, 0.66, 0.72, 0.78];
var flatIV_Kv = [0.005, 0.01, 0.015, 0.02, 0.025, 0.03, 0.04, 0.05, 0.06, 0.08, 0.12, 0.17, 0.27];
var flatV_Kv = [0.005, 0.01, 0.015, 0.02, 0.025, 0.03, 0.035, 0.045, 0.06, 0.08, 0.12, 0.14];
var flatII_W = [0.004, 0.01, 0.016, 0.022, 0.028, 0.035, 0.045, 0.055, 0.065];
var flatIII_W = [0.01, 0.02, 0.03, 0.04, 0.06, 0.10, 0.16, 0.24, 0.27, 0.45, 0.50, 0.66, 0.76, 0.86];
var flatIV_W = [0.005, 0.01, 0.015, 0.02];
var flatV_W = [0.005, 0.01, 0.015, 0.02, 0.03, 0.04, 0.055, 0.07];

// ---------- lookup tables built from the arrays ----------
var grids = {UCS: ucsGrid, RQD: rqdGrid, Kv: kvGrid, W: wGrid};
var iceXs = {UCS: ucsIceX, RQD: rqdIceX, Kv: kvIceX, W: wIceX};
var deciles = {UCS: ucsDeciles, RQD: rqdDeciles, Kv: kvDeciles, W: wDeciles};
var tickValues = {UCS: ucsTicks, RQD: rqdTicks, Kv: kvTicks, W: wTicks};
var averages = {
  II: {UCS: avgII_UCS, RQD: avgII_RQD, Kv: avgII_Kv, W: avgII_W},
  III: {UCS: avgIII_UCS, RQD: avgIII_RQD, Kv: avgIII_Kv, W: avgIII_W},
  IV: {UCS: avgIV_UCS, RQD: avgIV_RQD, Kv: avgIV_Kv, W: avgIV_W},
  V: {UCS: avgV_UCS, RQD: avgV_RQD, Kv: avgV_Kv, W: avgV_W}
};
var iceLines = {
  II: {UCS: iceII_UCS, RQD: iceII_RQD, Kv: iceII_Kv, W: iceII_W},
  III: {UCS: iceIII_UCS, RQD: iceIII_RQD, Kv: iceIII_Kv, W: iceIII_W},
  IV: {UCS: iceIV_UCS, RQD: iceIV_RQD, Kv: iceIV_Kv, W: iceIV_W},
  V: {UCS: iceV_UCS, RQD: iceV_RQD, Kv: iceV_Kv, W: iceV_W}
};
var flatLevels = {
  II: {UCS: flatII_UCS, RQD: flatII_RQD, Kv: flatII_Kv, W: flatII_W},
  III: {UCS: flatIII_UCS, RQD: flatIII_RQD, Kv: flatIII_Kv, W: flatIII_W},
  IV: {UCS: flatIV_UCS, RQD: flatIV_RQD, Kv: flatIV_Kv, W: flatIV_W},
  V: {UCS: flatV_UCS, RQD: flatV_RQD, Kv: flatV_Kv, W: flatV_W}
};

// ---------- layout ----------
var width = 2874, height = 3042;
var ph = 555, gap = 31;
var xDomains = {UCS: [-1.706, 3.52], RQD: [-1.967, 1.883], Kv: [-2.343, 1.698], W: [-1.067, 6.15]};
var yDomain = [-0.0485, 1.027];
var rows = [
  {cls: "II", top: 43, left: 195, pw: 626, labels: tickLabelsA},
  {cls: "III", top: 803, left: 186, pw: 629, labels: tickLabelsB},
  {cls: "IV", top: 1572, left: 195, pw: 626, labels: tickLabelsA},
  {cls: "V", top: 2333, left: 195, pw: 626, labels: tickLabelsA}
];

var serif = '"Liberation Serif", "DejaVu Serif", serif';
var pink = "#f27fb5", purple = "#7b7bbe", yellow = "#ffe100";

var svg = d3.select("#chart").attr("width", width).attr("height", height);
svg.append("rect").attr("width", width).attr("height", height).attr("fill", "#fff");

// boxes drawn round the first and third row
svg.append("rect").attr("x", 42).attr("y", 17).attr("width", 2776).attr("height", 720)
  .attr("fill", "none").attr("stroke", "#000").attr("stroke-width", 6);
svg.append("rect").attr("x", 42).attr("y", 1546).attr("width", 2776).attr("height", 719)
  .attr("fill", "none").attr("stroke", "#000").attr("stroke-width", 6);

function drawPanel(g, row, feat, j) {
  var pw = row.pw;
  var x = d3.scaleLinear().domain(xDomains[feat]).range([0, pw]);
  var y = d3.scaleLinear().domain(yDomain).range([ph, 0]);
  var grid = grids[feat];
  var iceX = iceXs[feat];

  // grid lines
  g.append("g").selectAll("line").data(tickValues[feat]).join("line")
    .attr("x1", function(d) { return x(d); }).attr("x2", function(d) { return x(d); })
    .attr("y1", 0).attr("y2", ph)
    .attr("stroke", "#b5b5b5").attr("stroke-width", 1.6).attr("stroke-dasharray", "7,5");
  g.append("g").selectAll("line").data(yTicks).join("line")
    .attr("x1", 0).attr("x2", pw)
    .attr("y1", function(d) { return y(d); }).attr("y2", function(d) { return y(d); })
    .attr("stroke", "#9a9a9a").attr("stroke-width", 2.2).attr("stroke-dasharray", "3,3");

  // flat ICE curves
  var flat = d3.line().x(function(d) { return x(d[0]); }).y(function(d) { return y(d[1]); });
  g.append("g").selectAll("path").data(flatLevels[row.cls][feat]).join("path")
    .attr("d", function(v) { return flat([[grid[0], v], [grid[grid.length - 1], v]]); })
    .attr("fill", "none").attr("stroke", pink).attr("stroke-width", 3.5)
    .attr("stroke-opacity", function(v) { return v < 0.06 ? 0.55 : 0.4; });

  // ICE curves
  var ice = d3.line()
    .defined(function(d, i) { return i < iceX.length; })
    .x(function(d, i) { return x(iceX[i]); })
    .y(function(d) { return y(d); });
  g.append("g").selectAll("path").data(iceLines[row.cls][feat]).join("path")
    .attr("d", ice)
    .attr("fill", "none").attr("stroke", pink).attr("stroke-width", 3.2).attr("stroke-opacity", 0.55);

  // average curve with markers
  var avg = averages[row.cls][feat];
  var avgLine = d3.line()
    .x(function(d, i) { return x(grid[i]); })
    .y(function(d) { return y(d); });
  g.append("path").attr("d", avgLine(avg))
    .attr("fill", "none").attr("stroke", purple).attr("stroke-width", 8).attr("stroke-linejoin", "round");
  g.append("g").selectAll("circle").data(avg).join("circle")
    .attr("cx", function(d, i) { return x(grid[i]); })
    .attr("cy", function(d) { return y(d); })
    .attr("r", 11).attr("fill", yellow).attr("stroke", "#111").attr("stroke-width", 2.5);

  // deciles rug
  g.append("g").selectAll("line").data(deciles[feat]).join("line")
    .attr("x1", function(d) { return x(d); }).attr("x2", function(d) { return x(d); })
    .attr("y1", ph).attr("y2", ph * 0.95)
    .attr("stroke", "#000").attr("stroke-width", 3.5);

  // frame
  g.append("rect").attr("width", pw).attr("height", ph)
    .attr("fill", "none").attr("stroke", "#111").attr("stroke-width", 3);

  // axes
  var xAxis = d3.axisBottom(x).tickValues(tickValues[feat])
    .tickFormat(function(d, i) { return row.labels[feat][i]; })
    .tickSize(11).tickPadding(11);
  var gx = g.append("g").attr("transform", "translate(0," + ph + ")").call(xAxis);
  gx.select(".domain").remove();
  gx.attr("font-family", null).attr("font-size", null);
  gx.selectAll("line").attr("stroke", "#111").attr("stroke-width", 2.5);
  gx.selectAll("text").style("font-family", serif).style("font-size", "34px").attr("fill", "#111");

  var yAxis = d3.axisLeft(y).tickValues(yTicks)
    .tickFormat(j === 0 ? d3.format(".1f") : function() { return ""; })
    .tickSize(11).tickPadding(13);
  var gy = g.append("g").call(yAxis);
  gy.select(".domain").remove();
  gy.attr("font-family", null).attr("font-size", null);
  gy.selectAll("line").attr("stroke", "#111").attr("stroke-width", 2.5);
  gy.selectAll("text").style("font-family", serif).style("font-size", "34px").attr("fill", "#111");

  g.append("text").attr("x", pw / 2).attr("y", ph + 100)
    .attr("text-anchor", "middle").style("font-family", serif).style("font-size", "46px").text(feat);

  if (j === 0) {
    g.append("text").attr("transform", "translate(-93," + (ph / 2) + ") rotate(-90)")
      .attr("text-anchor", "middle").style("font-family", serif).style("font-size", "48px")
      .text("Class " + row.cls + " probability");
  }

  // legend
  var lx = pw - 24 - 310, ly = 22;
  var lg = g.append("g").attr("transform", "translate(" + lx + "," + ly + ")");
  lg.append("rect").attr("width", 310).attr("height", 82).attr("rx", 9)
    .attr("fill", "#fff").attr("fill-opacity", 0.45).attr("stroke", "#222").attr("stroke-width", 2.5);
  lg.append("line").attr("x1", 13).attr("x2", 115).attr("y1", 36).attr("y2", 36)
    .attr("stroke", purple).attr("stroke-width", 8);
  lg.append("circle").attr("cx", 63).attr("cy", 36).attr("r", 11)
    .attr("fill", yellow).attr("stroke", "#111").attr("stroke-width", 2.5);
  lg.append("text").attr("x", 147).attr("y", 51)
    .style("font-family", serif).style("font-size", "46px").text("average");
}

rows.forEach(function(row) {
  features.forEach(function(feat, j) {
    var g = svg.append("g")
      .attr("transform", "translate(" + (row.left + j * (row.pw + gap)) + "," + row.top + ")");
    drawPanel(g, row, feat, j);
  });
});
</script>
</body>
</html>
